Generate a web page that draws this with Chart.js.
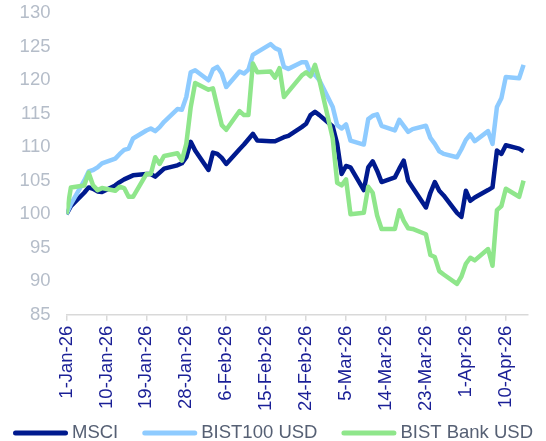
<!DOCTYPE html>
<html>
<head>
<meta charset="utf-8">
<script src="https://cdn.jsdelivr.net/npm/chart.js@4/dist/chart.umd.min.js"></script>
<style>
  html, body { margin: 0; padding: 0; background: #fff; }
  #wrap { width: 546px; height: 441px; position: relative; }
</style>
</head>
<body>
<div id="wrap"><canvas id="chart"></canvas></div>
<script>
// ===============================
// Datos (días desde 1-Jan-26, solo días hábiles)
// ===============================
const days = [0,1,4,5,6,7,8,11,12,13,14,15,18,19,20,21,22,25,26,27,28,29,32,33,34,35,36,
  39,40,41,42,43,46,47,48,49,50,53,54,55,56,57,60,61,62,63,64,67,68,69,70,71,
  74,75,76,77,78,81,82,83,84,85,88,89,90,91,92,95,96,97,98,99,102,103];

const msci = [100,101.2,103.2,104.0,103.8,103.4,103.3,
  104.3,104.8,105.2,105.5,105.8,
  106.0,106.0,105.6,106.2,106.8,
  107.3,107.6,108.5,110.8,109.5,
  106.6,109.2,109.0,108.4,107.5,
  109.7,110.4,111.2,112.0,111.0,
  110.9,110.9,111.2,111.5,111.7,
  113.0,113.5,114.8,115.3,114.8,
  113.1,110.5,106.0,107.2,107.0,
  103.6,107.0,107.9,106.5,104.8,
  105.5,106.8,108.0,105.0,104.0,
  101.0,103.2,104.8,103.5,102.8,
  100.2,99.6,103.5,102.0,102.5,
  103.6,104.0,109.5,109.0,110.3,
  109.8,109.4];

const bist100 = [100,101.5,105.0,106.4,106.6,107.0,107.6,
  108.3,109.0,109.6,109.8,111.3,
  112.5,112.8,112.4,113.0,113.8,
  115.7,115.6,117.5,121.2,121.5,
  120.0,121.6,122.0,121.0,119.0,
  121.3,121.0,121.6,123.8,124.2,
  125.4,124.8,124.5,122.0,121.7,
  122.7,122.7,121.0,120.8,120.0,
  116.0,113.3,112.8,113.4,111.0,
  110.4,114.2,114.7,114.9,113.2,
  112.5,114.1,113.2,112.3,112.7,
  113.2,111.4,110.5,109.4,109.0,
  108.5,109.7,111.1,111.9,110.9,
  112.4,110.5,116.0,117.3,120.5,
  120.3,122.3];

const bistBank = [100,104.0,104.3,106.2,104.3,103.6,103.9,
  103.5,104.1,103.9,102.6,102.6,
  106.0,106.0,108.5,107.5,108.7,
  109.1,108.0,110.5,116.0,119.6,
  118.6,118.8,116.0,113.3,112.6,
  115.4,114.8,114.8,122.5,121.2,
  121.3,120.4,121.8,117.5,118.3,
  120.7,121.2,120.6,122.3,120.0,
  111.3,104.7,104.3,105.2,100.0,
  100.2,104.1,103.2,99.8,97.8,
  97.8,100.6,99.0,97.9,97.8,
  97.0,93.9,93.6,91.5,91.0,
  89.6,90.7,92.6,93.5,93.1,
  94.8,92.3,100.6,101.2,103.8,
  102.6,105.0];

const tickDays   = [0,9,18,27,36,45,54,63,72,81,90,99];
const tickLabels = ["1-Jan-26","10-Jan-26","19-Jan-26","28-Jan-26","6-Feb-26","15-Feb-26",
  "24-Feb-26","5-Mar-26","14-Mar-26","23-Mar-26","1-Apr-26","10-Apr-26"];

const seriesNames = ["MSCI", "BIST100 USD", "BIST Bank USD"];

// ===============================
// Estilo
// ===============================
const FONT = '"Liberation Sans", Arial, sans-serif';
const COLORS = ["#001a8e", "#8ecbff", "#8fe68b"];
const DRAW_ORDER = [2, 1, 0]; // la última serie queda arriba (como Excel)
const pts = vals => days.map((d, i) => ({ x: d, y: vals[i] }));

// Leyenda inferior (línea + texto) dibujada a mano
const bottomLegend = {
  id: "bottomLegend",
  afterDraw(chart) {
    const ctx = chart.ctx;
    const y = 433;
    let x = 13;
    ctx.save();
    ctx.font = `18.5px ${FONT}`;
    ctx.textBaseline = "middle";
    chart.data.datasets.forEach(ds => {
      ctx.strokeStyle = ds.borderColor;
      ctx.lineWidth = 5;
      ctx.lineCap = "round";
      ctx.beginPath(); ctx.moveTo(x + 2.5, y); ctx.lineTo(x + 52.5, y); ctx.stroke();
      x += 59;
      ctx.fillStyle = "#566074";
      ctx.fillText(ds.label, x, y);
      x += ctx.measureText(ds.label).width + 24;
    });
    ctx.restore();
  }
};

new Chart(document.getElementById("chart"), {
  type: "line",
  data: {
    datasets: [msci, bist100, bistBank].map((vals, i) => ({
      label: seriesNames[i],
      data: pts(vals),
      borderColor: COLORS[i],
      backgroundColor: COLORS[i],
      borderWidth: 4.5,
      borderJoinStyle: "round",
      pointRadius: 0,
      tension: 0,
      order: DRAW_ORDER[i]
    }))
  },
  options: {
    responsive: true,
    maintainAspectRatio: false,
    animation: false,
    layout: { padding: { top: 13.3, left: 19.6, right: 18, bottom: 25 } },
    plugins: { legend: { display: false }, tooltip: { enabled: false } },
    scales: {
      x: {
        type: "linear",
        min: 0,
        max: 104,
        afterBuildTicks: s => { s.ticks = tickDays.map(v => ({ value: v })); },
        grid: { drawOnChartArea: false, tickLength: 6, color: "#d9d9d9", lineWidth: 1.5 },
        border: { color: "#d9d9d9", width: 1.5 },
        ticks: {
          autoSkip: false,
          minRotation: 90,
          maxRotation: 90,
          padding: 5,
          color: "#1a1f96",
          font: { family: FONT, size: 18.5 },
          callback: v => tickLabels[tickDays.indexOf(v)] ?? ""
        }
      },
      y: {
        min: 85,
        max: 130,
        ticks: { stepSize: 5, padding: 0, color: "#b5bdc9", font: { family: FONT, size: 18.5 } },
        // marcas invisibles: solo separan las etiquetas del área
        grid: { drawOnChartArea: false, drawTicks: true, tickLength: 16, color: "rgba(0,0,0,0)" },
        border: { display: false }
      }
    }
  },
  plugins: [bottomLegend]
});
</script>
</body>
</html>
